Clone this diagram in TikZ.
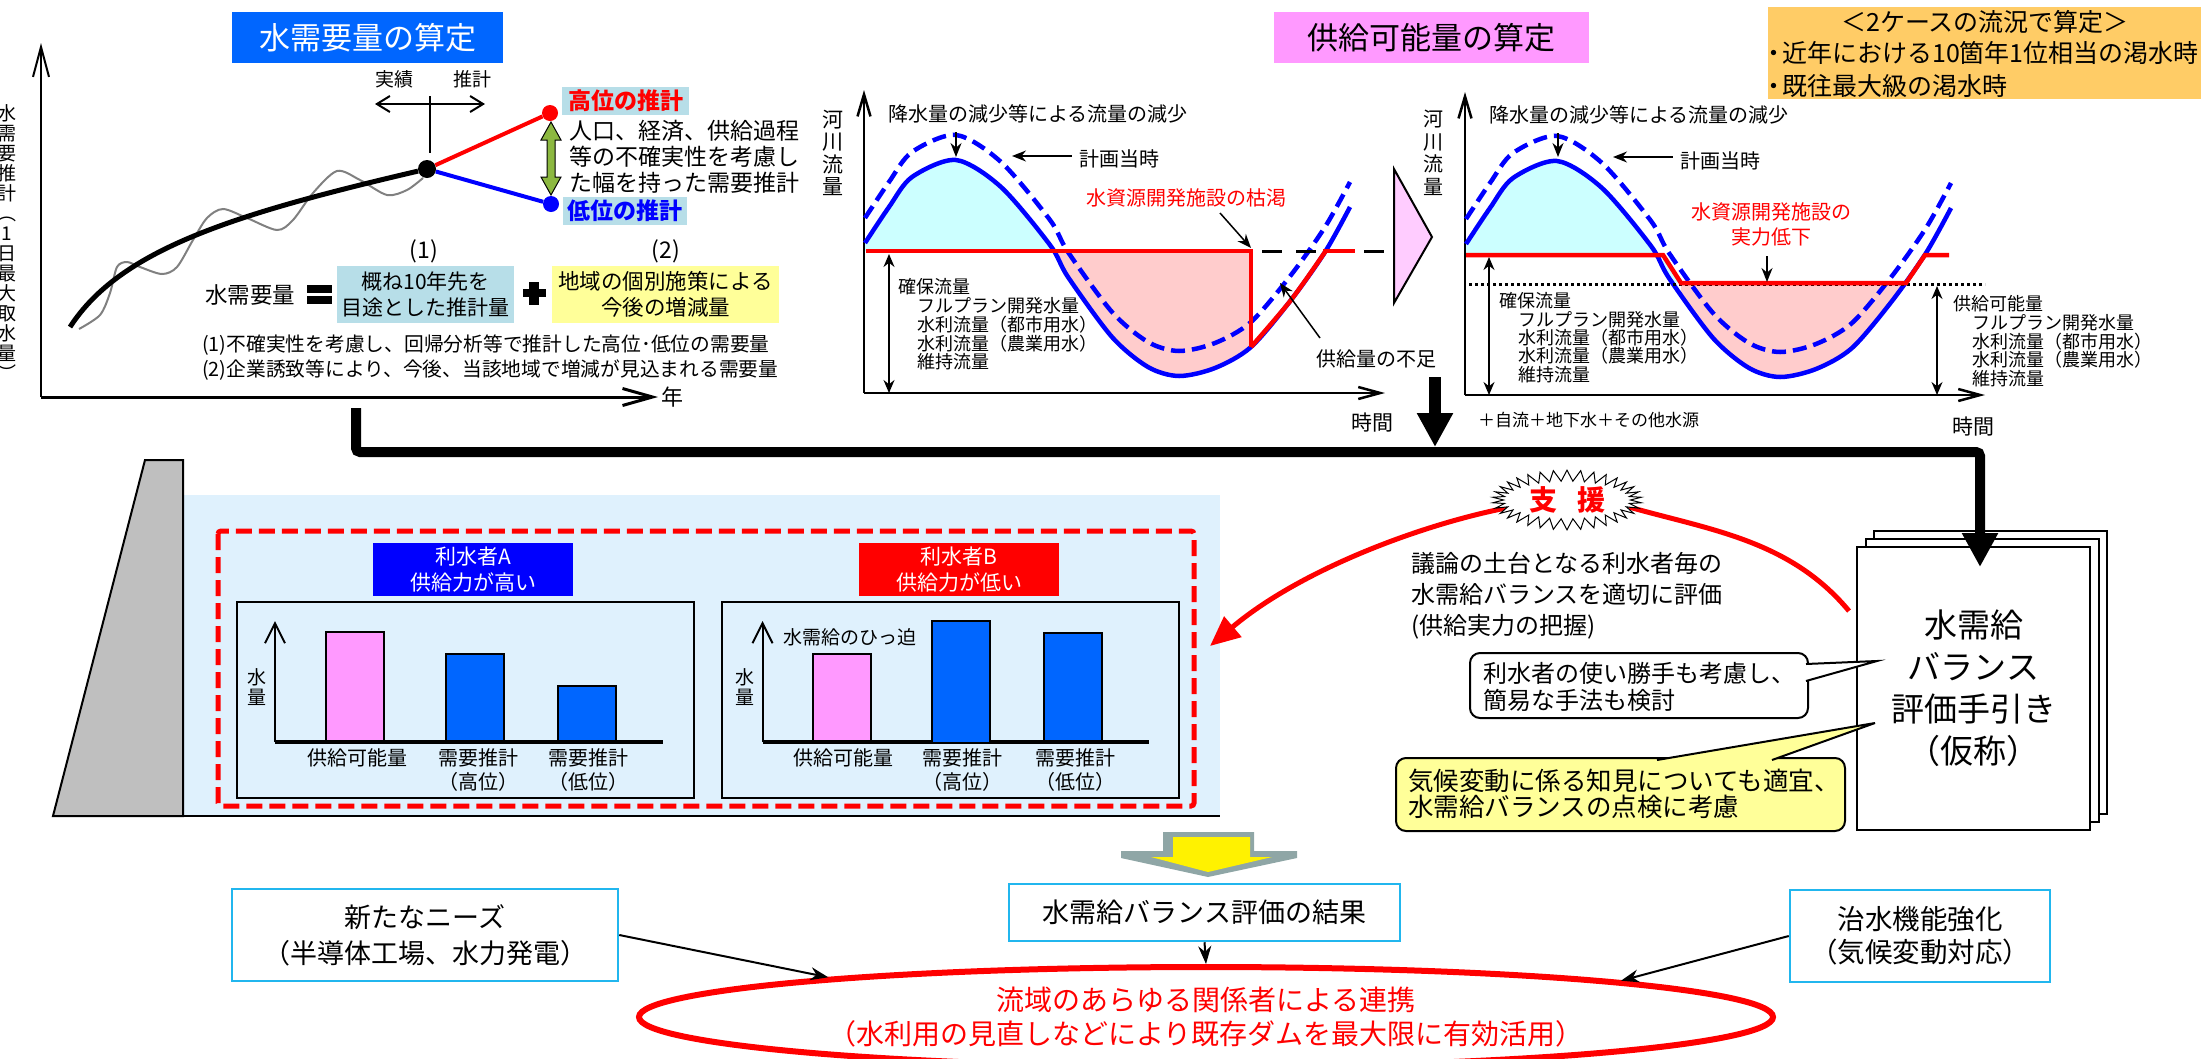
\documentclass[tikz,border=0pt]{standalone}
\usepackage{fontspec}
\setmainfont{Noto Sans CJK JP}
\usetikzlibrary{arrows.meta,shapes.geometric,shapes.symbols}
\definecolor{needblue}{HTML}{0066FF}
\definecolor{tealbox}{HTML}{B7DEE8}
\definecolor{paleyellow}{HTML}{FFFF99}
\definecolor{supplypink}{HTML}{FF99FF}
\definecolor{surplus}{HTML}{CCFFFF}
\definecolor{shortage}{HTML}{FFCCCC}
\definecolor{caseorange}{HTML}{FFCC66}
\definecolor{reservoir}{HTML}{DFF1FD}
\definecolor{boxline}{HTML}{21B6EE}
\definecolor{damgray}{HTML}{BFBFBF}
\definecolor{arrowgray}{HTML}{8FA6A6}
\definecolor{rangegreen}{HTML}{8CB840}
\tikzset{fs/.style 2 args={font=\fontsize{#1}{#2}\selectfont}}
\tikzstyle{textc} = [inner sep=0pt, align=center]
\tikzstyle{textl} = [inner sep=0pt, align=left, anchor=west]
\tikzstyle{banner} = [rectangle, inner sep=0pt, align=center, fs={31}{36}]
\tikzstyle{tipthin} = [line width=1.5pt, -{Stealth[length=14pt,width=11pt]}]
\tikzstyle{span} = [line width=1.5pt, {Stealth[length=13pt,width=11pt]}-{Stealth[length=13pt,width=11pt]}]
\tikzstyle{flow} = [draw=blue, line width=4.5pt]
\tikzstyle{flowplan} = [flow, dash pattern=on 14pt off 7pt]
\tikzstyle{limit} = [draw=red, line width=4.5pt]
\tikzstyle{bar} = [rectangle, draw, line width=2pt, inner sep=0pt, minimum width=58pt, anchor=south]
\tikzstyle{chart} = [rectangle, draw, line width=2pt, inner sep=0pt, minimum width=457pt, minimum height=196pt]
\tikzstyle{who} = [rectangle, inner sep=0pt, text=white, align=center, fs={21}{26}, minimum width=200pt, minimum height=53pt]
\tikzstyle{barlabel} = [textc, fs={20}{24}]
\tikzstyle{page} = [rectangle, draw, fill=white, line width=2pt, inner sep=0pt, minimum width=233pt, minimum height=283pt]
\tikzstyle{callnote} = [rectangle, draw, rounded corners=10pt, line width=2pt, inner sep=0pt, align=left]
\tikzstyle{result} = [rectangle, draw=boxline, fill=white, line width=2.5pt, inner sep=0pt, align=center]
\tikzstyle{link} = [line width=2pt, -{Stealth[length=18pt,width=13pt]}]
\newcommand{\flowcurve}{plot[smooth] coordinates {(865,243) (889,207) (912,177) (956,160) (1001,187) (1050,245) (1068,277) (1112,337) (1148,367) (1179,376) (1215,368) (1251,347) (1291,300) (1325,252) (1350,207)}}
\begin{document}
\begin{tikzpicture}[x=1pt,y=-1pt]
\useasboundingbox (0,0) rectangle (2201,1058);

\node[banner, fill=needblue, text=white, minimum width=271pt, minimum height=51pt] (needtitle) at (367.5,37.5) {水需要量の算定};
\draw[line width=2pt, -{Straight Barb[length=30pt,width=16pt]}] (41,397) -- (41,43);
\draw[line width=3pt, -{Straight Barb[length=30pt,width=17pt]}] (41,397) -- (658,397);
\node[textc, fs={19}{20}] (needaxis) at (7,243) {水\\需\\要\\推\\計\\︵\\1\\日\\最\\大\\取\\水\\量\\︶};
\node[textc, fs={22}{26}] (yearlabel) at (672,397) {年};
\node[textc, fs={19}{24}] (actual) at (394,79) {実績};
\node[textc, fs={19}{24}] (forecast) at (472,79) {推計};
\draw[line width=2pt, {Straight Barb[length=13pt,width=16pt]}-{Straight Barb[length=13pt,width=16pt]}] (375,104) -- (485,104);
\draw[line width=2pt] (430,96) -- (430,153);
\draw[color=gray, line width=2pt] plot[smooth] coordinates {(79,329) (100,315) (110,293) (117,267) (127,262) (140,267) (162,274) (177,267) (193,240) (207,218) (223,209) (247,218) (277,230) (293,220) (313,193) (337,171) (360,180) (387,195) (407,190) (423,178)};
\coordinate (pastcurve) at (70,327);
\node[circle, fill=red, inner sep=0pt, minimum size=16pt] (highdot) at (550,113) {};
\node[circle, fill=blue, inner sep=0pt, minimum size=16pt] (lowdot) at (551,204) {};
\node[circle, fill=black, inner sep=0pt, minimum size=18pt] (nowdot) at (427,169) {};
\draw[line width=5pt] (pastcurve) .. controls (120,250) and (230,215) .. (nowdot);
\draw[red, line width=4pt] (nowdot) -- (highdot);
\draw[blue, line width=4pt] (nowdot) -- (lowdot);
\draw[fill=rangegreen, line width=1pt] (551,122) -- (561,140) -- (555,140) -- (555,177) -- (561,177) -- (551,195) -- (541,177) -- (547,177) -- (547,140) -- (541,140) -- cycle;
\node[rectangle, fill=tealbox, text=red, inner sep=0pt, fs={23}{26}, minimum width=127pt, minimum height=28pt] (hightag) at (625.5,101) {\bfseries 高位の推計};
\node[rectangle, fill=tealbox, text=blue, inner sep=0pt, fs={23}{26}, minimum width=124pt, minimum height=28pt] (lowtag) at (625,211) {\bfseries 低位の推計};
\node[textl, fs={23}{26}] (rangenote) at (569,157) {人口、経済、供給過程\\等の不確実性を考慮し\\た幅を持った需要推計};
\node[textc, fs={23}{26}] (markone) at (424,251) {(1)};
\node[textc, fs={23}{26}] (marktwo) at (666,251) {(2)};
\node[textc, fs={22.5}{26}] (needword) at (250,295) {水需要量};
\fill (307,285) rectangle (332,293);
\fill (307,296) rectangle (332,304);
\node[rectangle, fill=tealbox, textc, fs={21}{26}, minimum width=177pt, minimum height=57pt] (trendbox) at (425.5,294.5) {概ね10年先を\\目途とした推計量};
\fill (523,289) rectangle (546,297);
\fill (529,282) rectangle (539,305);
\node[rectangle, fill=paleyellow, textc, fs={21.5}{26}, minimum width=227pt, minimum height=57pt] (localbox) at (665.5,294.5) {地域の個別施策による\\今後の増減量};
\node[textl, fs={19.75}{25}] (footnotes) at (202,357.5) {(1)不確実性を考慮し、回帰分析等で推計した高位･低位の需要量\\(2)企業誘致等により、今後、当該地域で増減が見込まれる需要量};

\node[banner, fill=supplypink, minimum width=315pt, minimum height=51pt] (supplytitle) at (1431.5,37.5) {供給可能量の算定};
\node[rectangle, fill=caseorange, minimum width=433pt, minimum height=92pt, inner sep=0pt] (casebox) at (1984.5,53) {};
\node[textc, fs={25}{30}] (casehead) at (1985,22) {＜2ケースの流況で算定＞};
\node[textl, fs={25}{30}] (caseone) at (1761,53) {・\kern-4pt 近年における10箇年1位相当の渇水時};
\node[textl, fs={25}{30}] (casetwo) at (1761,86) {・\kern-4pt 既往最大級の渇水時};

\begin{scope}
\clip (864,100) rectangle (1053,251);
\fill[surplus] \flowcurve -- (1350,251) -- (865,251) -- cycle;
\end{scope}
\begin{scope}
\clip (1053,251) rectangle (1251,400);
\fill[shortage] \flowcurve -- (1350,251) -- (865,251) -- cycle;
\end{scope}
\draw[line width=2.5pt, -{Straight Barb[length=22pt,width=13pt]}] (864,393) -- (864,90);
\draw[line width=2.5pt, -{Straight Barb[length=22pt,width=12pt]}] (864,393) -- (1385,393);
\draw[flowplan, shift={(0,-25)}] \flowcurve;
\draw[flow] \flowcurve;
\draw[line width=3pt, dash pattern=on 20pt off 14pt] (1262,251) -- (1385,251);
\draw[limit] (866,251) -- (1251,251) -- (1251,347);
\draw[limit] plot[smooth] coordinates {(1251,347) (1291,300) (1325,252)};
\draw[limit] (1323,251) -- (1355,251);
\node[textc, fs={21}{22.5}] (riverone) at (833,153) {河\\川\\流\\量};
\node[textl, fs={20}{24}] (dropone) at (888,114) {降水量の減少等による流量の減少};
\coordinate (dropstartone) at (956,132);
\coordinate (dropendone) at (956,157);
\draw[tipthin] (dropstartone) -- (dropendone);
\node[textc, fs={20}{24}] (planone) at (1119,159) {計画当時};
\coordinate (plantipone) at (1012,156);
\draw[tipthin] (planone.west) ++(-7,-3) -- (plantipone);
\node[textc, text=red, fs={20}{24}] (dryword) at (1186,198) {水資源開発施設の枯渇};
\coordinate (drystart) at (1220,213);
\coordinate (drytip) at (1251,248);
\draw[tipthin] (drystart) -- (drytip);
\node[textc, fs={20}{24}] (lackword) at (1376,359) {供給量の不足};
\coordinate (lackstart) at (1320,338);
\coordinate (lacktip) at (1280,283);
\draw[tipthin] (lackstart) -- (lacktip);
\coordinate (secureone) at (889,254);
\coordinate (baseone) at (889,393);
\draw[span] (secureone) -- (baseone);
\node[textl, fs={18}{18}] (securewordone) at (898,287) {確保流量};
\node[textl, fs={18}{18.7}] (securelistone) at (917,334) {フルプラン開発水量\\水利流量（都市用水）\\水利流量（農業用水）\\維持流量};
\node[textc, fs={21}{24}] (timeone) at (1372,423) {時間};
\draw[fill=supplypink!50!white, line width=2pt] (1394,169) -- (1432,237) -- (1394,303) -- cycle;
\coordinate (supplytop) at (1435,377);
\coordinate (supplytip) at (1435,447);
\draw[line width=12pt, -{Triangle[length=34pt,width=34pt]}] (supplytop) -- (supplytip);

\begin{scope}
\clip (1465,100) rectangle (1663,255) (1663,255) -- (1681,283) -- (1663,283) -- cycle;
\fill[surplus, shift={(601,1)}] \flowcurve -- (1350,254) -- (865,254) -- cycle;
\end{scope}
\begin{scope}
\clip (1681,283) rectangle (1906,400);
\fill[shortage, shift={(601,1)}] \flowcurve -- (1350,254) -- (865,254) -- cycle;
\end{scope}
\draw[line width=2.5pt, -{Straight Barb[length=22pt,width=13pt]}] (1465,395) -- (1465,92);
\draw[line width=2.5pt, -{Straight Barb[length=22pt,width=12pt]}] (1465,395) -- (1985,395);
\draw[flowplan, shift={(601,-24)}] \flowcurve;
\draw[flow, shift={(601,1)}] \flowcurve;
\draw[line width=3pt, dash pattern=on 3pt off 3pt] (1469,284) -- (1985,284);
\draw[limit] (1466,255) -- (1663,255) -- (1681,283) -- (1906,283) -- (1925,255) -- (1949,255);
\node[textc, fs={20}{22.5}] (rivertwo) at (1433,153) {河\\川\\流\\量};
\node[textl, fs={20}{24}] (droptwo) at (1489,115) {降水量の減少等による流量の減少};
\coordinate (dropstarttwo) at (1558,133);
\coordinate (dropendtwo) at (1558,157);
\draw[tipthin] (dropstarttwo) -- (dropendtwo);
\node[textc, fs={20}{24}] (plantwo) at (1720,161) {計画当時};
\coordinate (plantiptwo) at (1613,157);
\draw[tipthin] (plantwo.west) ++(-7,-4) -- (plantiptwo);
\node[textc, text=red, fs={20}{25}] (weakword) at (1771,224.5) {水資源開発施設の\\実力低下};
\coordinate (weakstart) at (1767,256);
\coordinate (weaktip) at (1767,282);
\draw[tipthin] (weakstart) -- (weaktip);
\coordinate (securetwo) at (1489,257);
\coordinate (basetwo) at (1489,395);
\draw[span] (securetwo) -- (basetwo);
\coordinate (abletop) at (1937,286);
\coordinate (ablebase) at (1937,395);
\draw[span] (abletop) -- (ablebase);
\node[textl, fs={18}{18}] (securewordtwo) at (1499,301) {確保流量};
\node[textl, fs={18}{18.3}] (securelisttwo) at (1518,347) {フルプラン開発水量\\水利流量（都市用水）\\水利流量（農業用水）\\維持流量};
\node[textl, fs={18}{18}] (ableword) at (1953,304) {供給可能量};
\node[textl, fs={18}{18.5}] (ablelist) at (1972,350.5) {フルプラン開発水量\\水利流量（都市用水）\\水利流量（農業用水）\\維持流量};
\node[textl, fs={17}{20}] (otherwater) at (1478,420) {＋自流＋地下水＋その他水源};
\node[textc, fs={21}{24}] (timetwo) at (1973,427) {時間};

\fill[reservoir] (183,495) rectangle (1220,816);
\draw[fill=damgray, line width=2pt] (145,460) -- (183,460) -- (183,816) -- (53,816) -- cycle;
\draw[line width=2pt] (53,816) -- (1220,816);
\draw[red, line width=5pt, rounded corners=3pt, dash pattern=on 16pt off 7pt] (218,531) rectangle (1194,806);
\node[who, fill=blue] (usera) at (473,569.5) {利水者A\\供給力が高い};
\node[who, fill=red] (userb) at (959,569.5) {利水者B\\供給力が低い};
\node[chart] (charta) at (465.5,700) {};
\node[chart] (chartb) at (950,700) {};

\draw[line width=2pt, -{Straight Barb[length=20pt,width=20pt]}] (275,742) -- (275,621);
\draw[line width=3.5pt] (275,742) -- (663,742);
\node[textc, fs={19}{20}] (waterwa) at (257,687) {水\\量};
\node[bar, fill=supplypink, minimum height=109pt] (supplya) at (355,742) {};
\node[bar, fill=needblue, minimum height=87pt] (higha) at (474.5,742) {};
\node[bar, fill=needblue, minimum height=55pt] (lowa) at (586.5,742) {};
\node[barlabel] (supplylabela) at (357,758) {供給可能量};
\node[barlabel, right of=supplylabela, node distance=121pt] (highlabela) {需要推計};
\node[barlabel, right of=highlabela, node distance=110pt] (lowlabela) {需要推計};
\node[barlabel, below of=highlabela, node distance=24pt] (highmarka) {（高位）};
\node[barlabel, below of=lowlabela, node distance=24pt] (lowmarka) {（低位）};

\draw[line width=2pt, -{Straight Barb[length=20pt,width=20pt]}] (762.5,742) -- (762.5,621);
\draw[line width=3.5pt] (762.5,742) -- (1149,742);
\node[textc, fs={19}{20}] (waterwb) at (745,687) {水\\量};
\node[bar, fill=supplypink, minimum height=87pt] (supplyb) at (841.5,742) {};
\node[bar, fill=needblue, minimum height=122pt] (highb) at (961,744) {};
\node[bar, fill=needblue, minimum height=108pt] (lowb) at (1072.5,742) {};
\node[textc, fs={19}{24}] (tightword) at (850,637) {水需給のひっ迫};
\node[barlabel] (supplylabelb) at (843,758) {供給可能量};
\node[barlabel, right of=supplylabelb, node distance=119pt] (highlabelb) {需要推計};
\node[barlabel, right of=highlabelb, node distance=113pt] (lowlabelb) {需要推計};
\node[barlabel, below of=highlabelb, node distance=24pt] (highmarkb) {（高位）};
\node[barlabel, below of=lowlabelb, node distance=24pt] (lowmarkb) {（低位）};

\node[page] (bookthree) at (1990,672.5) {};
\node[page] (booktwo) at (1982,680.5) {};
\node[page, textc, fs={33}{42}] (bookone) at (1973.5,688) {水需給\\バランス\\評価手引き\\（仮称）};
\coordinate (trunkstart) at (356,408);
\coordinate (trunkturn) at (1980,452);
\coordinate (trunkend) at (1980,567);
\draw[line width=10pt, rounded corners=4pt, -{Triangle[length=34pt,width=34pt]}] (trunkstart) |- (trunkturn) -- (trunkend);

\coordinate (arcstart) at (1849,611);
\coordinate (arcright) at (1629,507);
\coordinate (arcleft) at (1506,508);
\coordinate (arctip) at (1210,646);
\draw[red, line width=5pt] (arcstart) .. controls (1790,540) and (1710,530) .. (arcright);
\draw[red, line width=5pt, -{Triangle[length=30pt,width=26pt]}] (arcleft) .. controls (1420,525) and (1300,570) .. (arctip);
\node[starburst, draw, fill=white, line width=1pt, starburst points=34, starburst point height=11pt, random starburst=0, inner sep=0pt, minimum width=149pt, minimum height=56pt, text=red, fs={28}{30}] (support) at (1567,500) {\bfseries 支\kern20pt 援};
\node[textl, fs={24}{31}] (supportnote) at (1411,596) {議論の土台となる利水者毎の\\水需給バランスを適切に評価\\(供給実力の把握)};
\node[callnote, fill=white, minimum width=338pt, minimum height=65pt] (usernote) at (1639,685.5) {};
\node[textl, fs={24}{27}] (usertext) at (1483,686.5) {利水者の使い勝手も考慮し、\\簡易な手法も検討};
\draw[fill=white, line width=2pt] (1806,664) -- (1877,661) -- (1806,681);
\node[callnote, fill=paleyellow, minimum width=449pt, minimum height=73pt] (climatenote) at (1620.5,794.5) {};
\node[textl, fs={25.5}{26}] (climatetext) at (1408,794) {気候変動に係る知見についても適宜、\\水需給バランスの点検に考慮};
\draw[fill=paleyellow, line width=2pt] (1657,760) -- (1875,723) -- (1772,760);

\fill[arrowgray] (1163,832) -- (1254,832) -- (1254,851) -- (1297,851) -- (1297,858) -- (1208,877) -- (1121,858) -- (1121,851) -- (1163,851) -- cycle;
\fill[yellow] (1173,837) -- (1250,837) -- (1250,857) -- (1272,857) -- (1208,872) -- (1151,857) -- (1173,857) -- cycle;
\node[result, minimum width=386pt, minimum height=92pt, fs={27}{36}] (newneeds) at (425,935) {新たなニーズ\\（半導体工場、水力発電）};
\node[result, minimum width=391pt, minimum height=57pt, fs={27}{32}] (balance) at (1204.5,912.5) {水需給バランス評価の結果};
\node[result, minimum width=260pt, minimum height=92pt, fs={27.5}{33}] (floodctrl) at (1920,936) {治水機能強化\\（気候変動対応）};
\node[ellipse, draw=red, fill=white, line width=6pt, inner sep=0pt, minimum width=1134pt, minimum height=100pt, text=red, align=center, fs={28}{34}] (cooperate) at (1206,1017) {流域のあらゆる関係者による連携\\（水利用の見直しなどにより既存ダムを最大限に有効活用）};
\draw[link] (newneeds.east) -- (cooperate.174.7);
\draw[link] (balance.south) -- (cooperate.north);
\draw[link] (floodctrl.west) -- (cooperate.5.2);
\end{tikzpicture}
\end{document}
